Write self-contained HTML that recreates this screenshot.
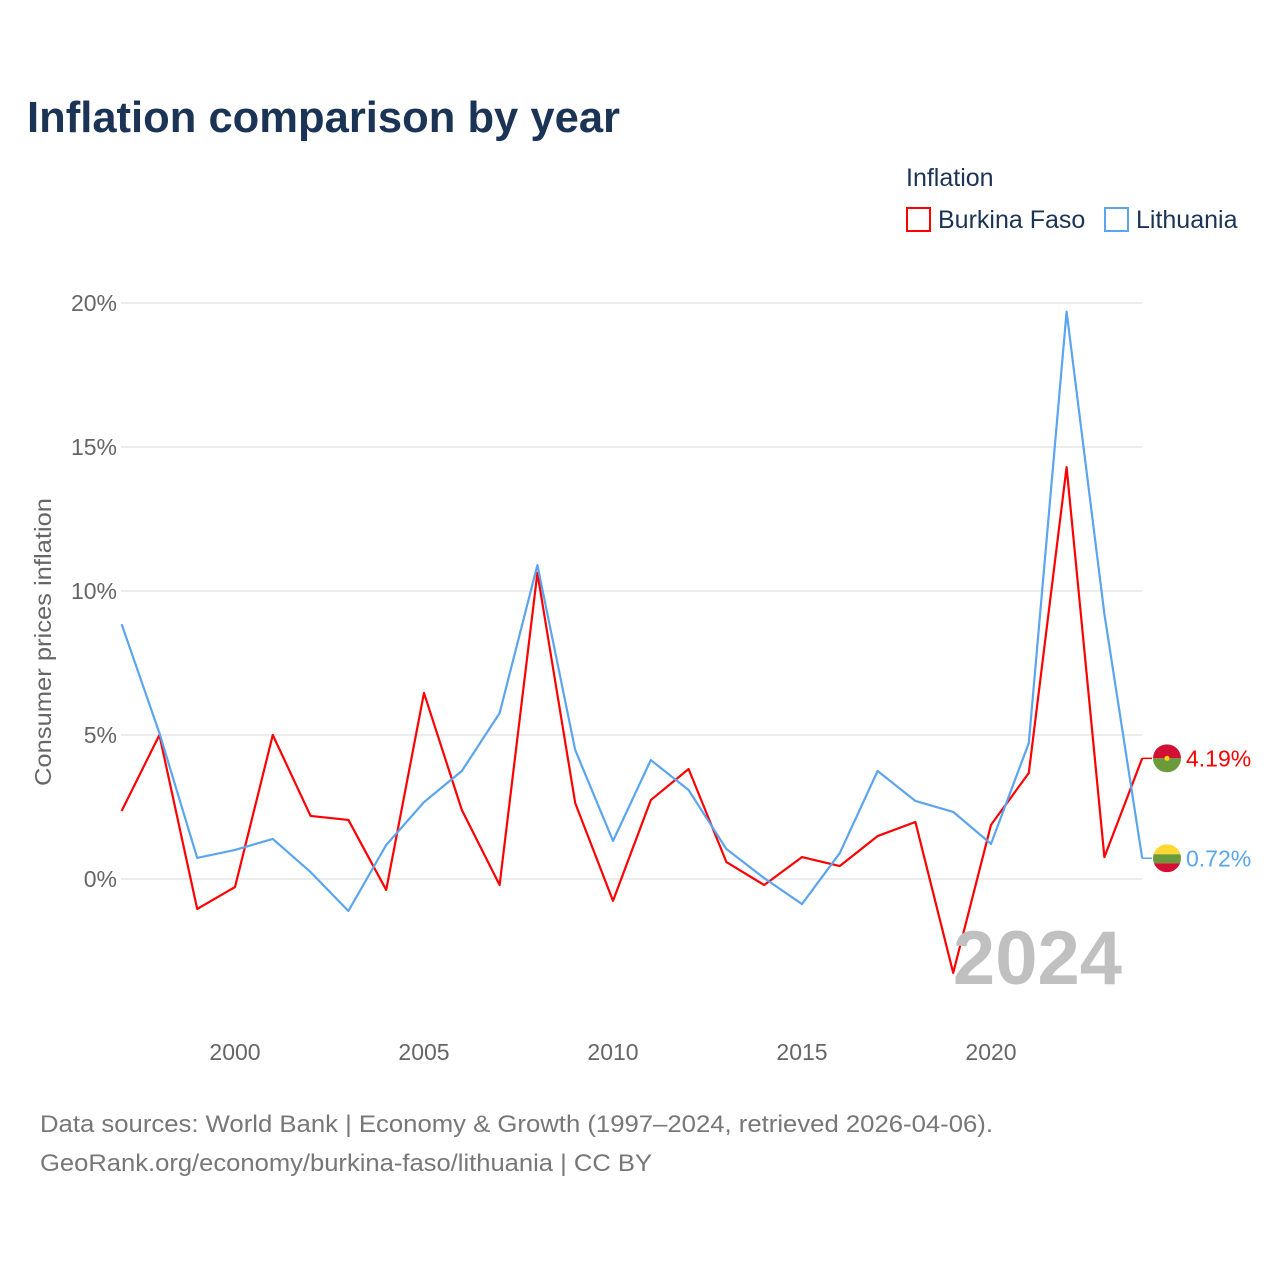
<!DOCTYPE html>
<html><head><meta charset="utf-8">
<style>
body{margin:0;background:#fff;font-family:"Liberation Sans",sans-serif;}
#wrap{position:relative;width:1280px;height:1280px;overflow:hidden;}
</style></head>
<body>
<div id="wrap">
<svg id="chart" width="1280" height="1280" xmlns="http://www.w3.org/2000/svg">
<text x="27" y="132" font-size="44" font-weight="bold" fill="#1b3355" textLength="593" lengthAdjust="spacingAndGlyphs">Inflation comparison by year</text>
<text x="906" y="186" font-size="25" fill="#1b3355">Inflation</text>
<g>
<rect x="907" y="208" width="23" height="23" fill="none" stroke="#ff0000" stroke-width="2"/>
<text x="938" y="228" font-size="25" fill="#1b3355">Burkina Faso</text></g>
<g>
<rect x="1105" y="208" width="23" height="23" fill="none" stroke="#5aa5ee" stroke-width="2"/>
<text x="1136" y="228" font-size="25" fill="#1b3355">Lithuania</text></g>
<text transform="translate(51,642) rotate(-90)" text-anchor="middle" font-size="23" fill="#666" textLength="288" lengthAdjust="spacingAndGlyphs">Consumer prices inflation</text>
<g id="grid"></g><g id="xt"></g><g id="series"></g>
<text x="1122" y="984" text-anchor="end" font-size="76" font-weight="bold" fill="#c0c0c0">2024</text>
<text x="40" y="1132" font-size="24" fill="#777" textLength="953" lengthAdjust="spacingAndGlyphs">Data sources: World Bank | Economy &amp; Growth (1997–2024, retrieved 2026-04-06).</text>
<text x="40" y="1171" font-size="24" fill="#777" textLength="612" lengthAdjust="spacingAndGlyphs">GeoRank.org/economy/burkina-faso/lithuania | CC BY</text>
</svg></div>
<script>
const years=[1997,1998,1999,2000,2001,2002,2003,2004,2005,2006,2007,2008,2009,2010,2011,2012,2013,2014,2015,2016,2017,2018,2019,2020,2021,2022,2023,2024];
const burkinaFaso=[2.36,5.0,-1.04,-0.28,5.0,2.19,2.05,-0.38,6.46,2.4,-0.21,10.63,2.64,-0.76,2.74,3.82,0.59,-0.21,0.76,0.45,1.49,1.98,-3.26,1.88,3.68,14.3,0.76,4.19];
const lithuania=[8.85,5.07,0.73,1.01,1.39,0.24,-1.11,1.18,2.67,3.75,5.76,10.9,4.48,1.32,4.13,3.09,1.04,0.03,-0.87,0.9,3.75,2.71,2.33,1.22,4.72,19.7,9.2,0.72];
const yTicks=[0,5,10,15,20];
const xTicks=[2000,2005,2010,2015,2020];
const NS="http://www.w3.org/2000/svg";
const x=v=>121.6+(v-1997)*37.8;
const y=v=>879-v*28.8;
function mk(tag,attrs,parent){const e=document.createElementNS(NS,tag);for(const k in attrs)e.setAttribute(k,attrs[k]);parent.appendChild(e);return e;}
const grid=document.getElementById('grid');
yTicks.forEach(t=>{
 const l=mk('line',{x1:121,x2:1142,y1:y(t),y2:y(t),stroke:'#e6e6e6','stroke-width':1.5},grid);
 
 
 const tx=mk('text',{x:117,y:y(t)+8,'text-anchor':'end','font-size':23,fill:'#666'},grid);
 tx.textContent=t+'%';
 
 
});
const xt=document.getElementById('xt');
xTicks.forEach(t=>{
 const tx=mk('text',{x:x(t),y:1060,'text-anchor':'middle','font-size':23,fill:'#666'},xt);
 tx.textContent=t;
 
 
});
const sg=document.getElementById('series');
function series(vals,color,name,flag){
 const p=mk('polyline',{points:vals.map((v,i)=>x(years[i])+','+y(v)).join(' '),fill:'none',stroke:color,'stroke-width':2.2,'stroke-linejoin':'round'},sg);
 
 
 const last=vals[vals.length-1];
 const ly=y(last);
 mk('line',{x1:x(2024),x2:1152,y1:ly,y2:ly,stroke:color,'stroke-width':1.5},sg);
 const g=mk('g',{},sg);
 
 
 flag(g,1167,ly);
 const t=mk('text',{x:1186,y:ly+8,'font-size':23,fill:color},sg);
 t.textContent=last.toFixed(2)+'%';
 
 
}
series(burkinaFaso,'#ff0000','burkina-faso',(g,cx,cy)=>{
 const c=mk('clipPath',{id:'cb'},g);mk('circle',{cx:cx,cy:cy,r:14},c);
 mk('rect',{x:cx-14,y:cy-14,width:28,height:14,fill:'#d21034','clip-path':'url(#cb)'},g);
 mk('rect',{x:cx-14,y:cy,width:28,height:14,fill:'#6a9a3a','clip-path':'url(#cb)'},g);
 mk('circle',{cx:cx,cy:cy,r:2.5,fill:'#fcd116'},g);
});
series(lithuania,'#5aa5ee','lithuania',(g,cx,cy)=>{
 const c=mk('clipPath',{id:'cl'},g);mk('circle',{cx:cx,cy:cy,r:14},c);
 mk('rect',{x:cx-14,y:cy-14,width:28,height:10,fill:'#fdd835','clip-path':'url(#cl)'},g);
 mk('rect',{x:cx-14,y:cy-4,width:28,height:9,fill:'#6a9a3a','clip-path':'url(#cl)'},g);
 mk('rect',{x:cx-14,y:cy+5,width:28,height:9,fill:'#d21034','clip-path':'url(#cl)'},g);
});
</script>
</body></html>
